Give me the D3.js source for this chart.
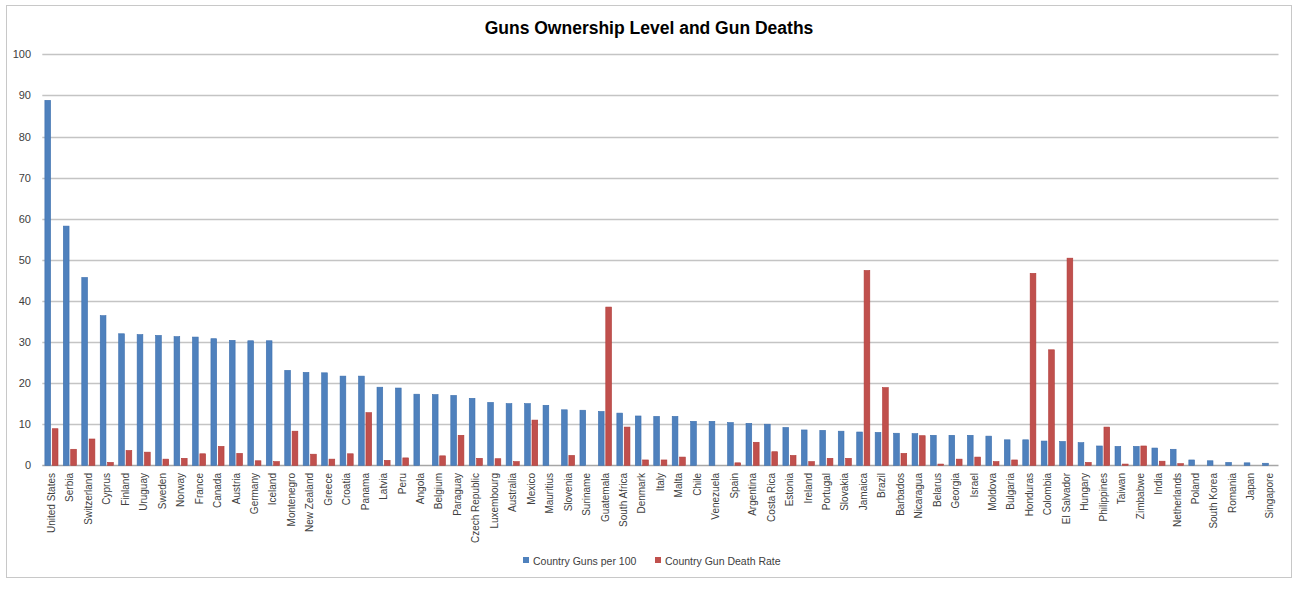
<!DOCTYPE html>
<html>
<head>
<meta charset="utf-8">
<script src="https://cdn.jsdelivr.net/npm/d3@7"></script>
<style>
  body { margin: 0; background: #fff; }
  text { font-family: "Liberation Sans", Arial, sans-serif; }
</style>
</head>
<body>
<div id="chart"></div>
<script>
const countries = ["United States", "Serbia", "Switzerland", "Cyprus", "Finland", "Uruguay", "Sweden", "Norway", "France", "Canada",
  "Austria", "Germany", "Iceland", "Montenegro", "New Zealand", "Greece", "Croatia", "Panama", "Latvia", "Peru",
  "Angola", "Belgium", "Paraguay", "Czech Republic", "Luxembourg", "Australia", "Mexico", "Mauritius", "Slovenia", "Suriname",
  "Guatemala", "South Africa", "Denmark", "Italy", "Malta", "Chile", "Venezuela", "Spain", "Argentina", "Costa Rica",
  "Estonia", "Ireland", "Portugal", "Slovakia", "Jamaica", "Brazil", "Barbados", "Nicaragua", "Belarus", "Georgia",
  "Israel", "Moldova", "Bulgaria", "Honduras", "Colombia", "El Salvador", "Hungary", "Philippines", "Taiwan", "Zimbabwe",
  "India", "Netherlands", "Poland", "South Korea", "Romania", "Japan", "Singapore"];

const gunsPer100 = [88.8, 58.2, 45.7, 36.4, 32.0, 31.8, 31.6, 31.3, 31.2, 30.8,
  30.4, 30.3, 30.3, 23.1, 22.6, 22.5, 21.7, 21.7, 19.0, 18.8,
  17.3, 17.2, 17.0, 16.3, 15.3, 15.0, 15.0, 14.6, 13.5, 13.4,
  13.1, 12.7, 12.0, 11.9, 11.9, 10.7, 10.7, 10.4, 10.2, 10.0,
  9.2, 8.6, 8.5, 8.3, 8.1, 8.0, 7.8, 7.7, 7.3, 7.3,
  7.3, 7.1, 6.2, 6.2, 5.9, 5.8, 5.5, 4.7, 4.6, 4.6,
  4.2, 3.9, 1.3, 1.1, 0.7, 0.6, 0.5];

const gunDeathRate = [8.9, 3.9, 6.4, 0.7, 3.6, 3.2, 1.5, 1.7, 2.8, 4.6,
  2.9, 1.1, 0.9, 8.3, 2.7, 1.5, 2.8, 12.8, 1.2, 1.8,
  0, 2.3, 7.3, 1.7, 1.6, 0.9, 11.0, 0, 2.4, 0,
  38.5, 9.3, 1.3, 1.3, 2.0, 0, 0, 0.6, 5.6, 3.3,
  2.4, 0.9, 1.7, 1.7, 47.4, 18.9, 2.9, 7.2, 0.3, 1.5,
  2.0, 0.9, 1.3, 46.7, 28.1, 50.4, 0.7, 9.3, 0.3, 4.7,
  1.0, 0.4, 0, 0, 0, 0, 0];

const yTicks = [0, 10, 20, 30, 40, 50, 60, 70, 80, 90, 100];
const seriesNames = ["Country Guns per 100", "Country Gun Death Rate"];
const seriesColors = ["#4f81bd", "#c0504d"];
const seriesStrokes = ["#3c6fae", "#b03a37"];

const W = 1300, H = 589;
const plotLeft = 42.3, plotRight = 1278.5, plotTop = 54.3, plotBottom = 465.3;

const svg = d3.select("#chart").append("svg").attr("width", W).attr("height", H);

svg.append("rect").attr("x", 6.5).attr("y", 5.5).attr("width", 1285).attr("height", 572)
  .attr("fill", "#fff").attr("stroke", "#c8c8c8").attr("stroke-width", 1);

const x = d3.scaleBand().domain(countries).range([plotLeft, plotRight]);
const y = d3.scaleLinear().domain([0, 100]).range([plotBottom, plotTop]);
const bw = x.bandwidth();
const barW = bw * 0.31;

// grid
svg.append("g").selectAll("line").data(yTicks).join("line")
  .attr("x1", plotLeft).attr("x2", plotRight)
  .attr("y1", d => Math.round(y(d)) + 0.5).attr("y2", d => Math.round(y(d)) + 0.5)
  .attr("stroke", d => d === 0 ? "#a6a6a6" : "#c4c4c4").attr("stroke-width", 1.3);

// y labels
svg.append("g").selectAll("text").data(yTicks).join("text")
  .attr("x", 31).attr("y", d => y(d) + 4)
  .attr("text-anchor", "end").attr("font-size", 11).attr("fill", "#404040")
  .text(d => d);

const series = [gunsPer100, gunDeathRate];
series.forEach((vals, si) => {
  svg.append("g").selectAll("rect").data(countries).join("rect")
    .attr("x", (d, i) => x(d) + (si === 0 ? bw * 0.14 : bw * 0.54))
    .attr("width", barW)
    .attr("y", (d, i) => y(vals[i]))
    .attr("height", (d, i) => plotBottom - y(vals[i]))
    .attr("fill", seriesColors[si])
    .attr("stroke", seriesStrokes[si]).attr("stroke-width", 0.6);
});

// x labels
svg.append("g").selectAll("text").data(countries).join("text")
  .attr("transform", d => `translate(${x(d) + bw / 2 + 3.5},${473}) rotate(-90)`)
  .attr("text-anchor", "end").attr("font-size", 10).attr("fill", "#404040")
  .text(d => d);

// title
svg.append("text").attr("x", 649).attr("y", 34).attr("text-anchor", "middle")
  .attr("font-size", 17.5).attr("font-weight", "bold").attr("fill", "#000")
  .text("Guns Ownership Level and Gun Deaths");

// legend
const legend = svg.append("g");
const legX = [523, 655];
seriesNames.forEach((name, i) => {
  legend.append("rect").attr("x", legX[i]).attr("y", 557).attr("width", 6).attr("height", 6)
    .attr("fill", seriesColors[i]);
  legend.append("text").attr("x", legX[i] + 10).attr("y", 564.5)
    .attr("font-size", 10.5).attr("fill", "#404040").text(name);
});
</script>
</body>
</html>
